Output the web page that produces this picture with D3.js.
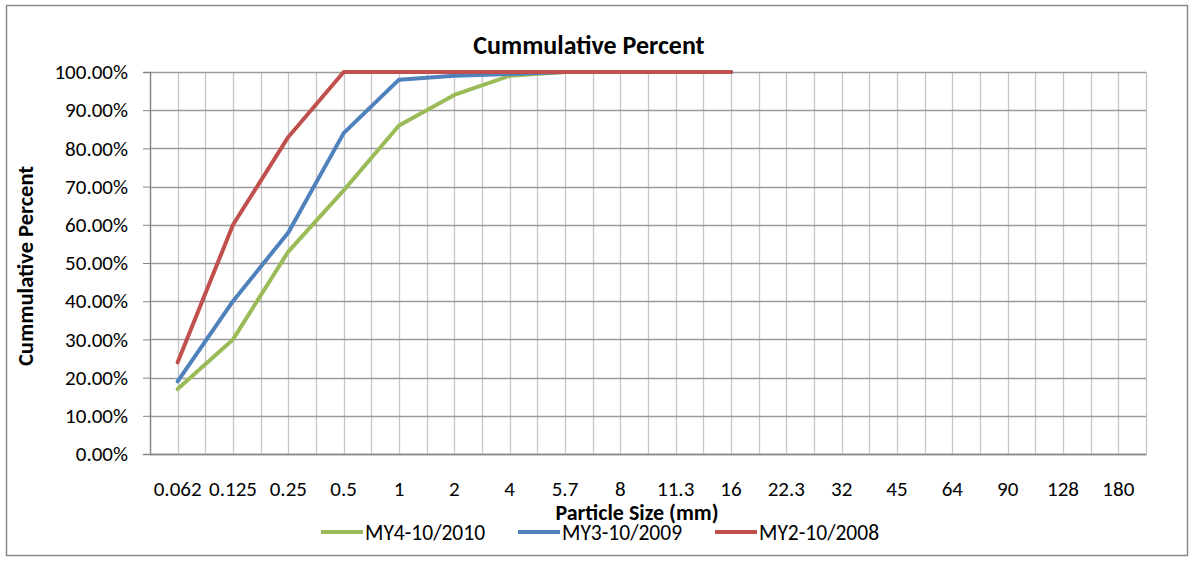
<!DOCTYPE html>
<html><head><meta charset="utf-8">
<script src="https://cdn.jsdelivr.net/npm/d3@7"></script>
<style>body{margin:0;background:#fff}svg{display:block}text{font-family:Carlito,Calibri,Lato,sans-serif;fill:#000}</style>
</head><body><svg id="c" width="1195" height="561"></svg>
<script>
const categories = ["0.062","0.125","0.25","0.5","1","2","4","5.7","8","11.3","16","22.3","32","45","64","90","128","180"];
const my4_2010 = [0.17,0.30,0.53,0.69,0.86,0.94,0.99,1,1,1,1];
const my3_2009 = [0.19,0.40,0.58,0.84,0.98,0.99,0.995,1,1,1,1];
const my2_2008 = [0.24,0.60,0.83,1,1,1,1,1,1,1,1];
const yTicks = [0,0.1,0.2,0.3,0.4,0.5,0.6,0.7,0.8,0.9,1];
const seriesNames = ["MY4-10/2010","MY3-10/2009","MY2-10/2008"];
const seriesColors = ["#9BBB59","#4F81BD","#C0504D"];

const svg = d3.select("#c");
const L=150,R=1146,T=72,B=454;
const FF = "Carlito,Calibri,Lato,sans-serif";
svg.append("rect").attr("x",6.5).attr("y",5.5).attr("width",1181).attr("height",550).attr("fill","#fff").attr("stroke","#888").attr("stroke-width",1.5);

const x = d3.scaleBand().domain(categories).range([L,R]).padding(0);
const y = d3.scaleLinear().domain([0,1]).range([B,T]);
const bw = x.bandwidth();

// vertical gridlines (band edges and centers)
const vx = [];
categories.forEach((c,i)=>{ if(i>0) vx.push(x(c)); vx.push(x(c)+bw/2); });
vx.push(R);
svg.append("g").selectAll("line").data(vx).join("line")
  .attr("x1",d=>Math.round(d)+0.5).attr("x2",d=>Math.round(d)+0.5).attr("y1",T).attr("y2",B)
  .attr("stroke","#c6c6c6").attr("stroke-width",1.3);
// horizontal gridlines
svg.append("g").selectAll("line").data(yTicks).join("line")
  .attr("x1",L).attr("x2",R).attr("y1",d=>Math.round(y(d))+0.5).attr("y2",d=>Math.round(y(d))+0.5)
  .attr("stroke","#9a9a9a").attr("stroke-width",1.3);

// y axis
const ya = svg.append("g").attr("transform",`translate(${L},0)`)
  .call(d3.axisLeft(y).tickValues(yTicks).tickFormat(d3.format(".2%")).tickSize(7).tickPadding(15));
ya.select(".domain").attr("stroke","#868686").attr("stroke-width",1.5);
ya.selectAll(".tick line").attr("stroke","#868686");
ya.selectAll(".tick text").attr("font-size",21).attr("font-family",FF);
// x axis
const xa = svg.append("g").attr("transform",`translate(0,${B})`)
  .call(d3.axisBottom(x).tickSize(0));
xa.select(".domain").attr("stroke","#868686").attr("stroke-width",1.5);
xa.selectAll(".tick text").attr("font-size",21).attr("font-family",FF).attr("y",42).attr("dy",0);

// lines
const line = d3.line().x((d,i)=>x(categories[i])+bw/2).y(d=>y(d));
[my4_2010,my3_2009,my2_2008].forEach((s,k)=>{
  svg.append("path").datum(s).attr("d",line).attr("fill","none")
    .attr("stroke",seriesColors[k]).attr("stroke-width",4).attr("stroke-linejoin","round").attr("stroke-linecap","round");
});

// titles
svg.append("text").attr("x",589).attr("y",54).attr("text-anchor","middle").attr("font-weight","bold").attr("font-size",26).text("Cummulative Percent");
svg.append("text").attr("transform",`translate(33,266) rotate(-90)`).attr("text-anchor","middle").attr("font-weight","bold").attr("font-size",22.5).text("Cummulative Percent");
svg.append("text").attr("x",637).attr("y",520).attr("text-anchor","middle").attr("font-weight","bold").attr("font-size",22).text("Particle Size (mm)");

// legend
const legX = [321,518,715];
seriesNames.forEach((n,k)=>{
  const g = svg.append("g");
  g.append("line").attr("x1",legX[k]).attr("x2",legX[k]+42).attr("y1",532).attr("y2",532).attr("stroke",seriesColors[k]).attr("stroke-width",4);
  g.append("text").attr("x",legX[k]+44).attr("y",540).attr("font-size",21.5).text(n);
});
</script></body></html>
